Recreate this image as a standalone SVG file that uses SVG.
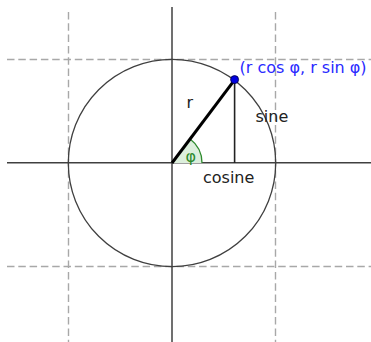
<svg xmlns="http://www.w3.org/2000/svg" width="371" height="342" viewBox="0 0 371 342">
<style>
.grid{stroke:#a8a8a8;stroke-width:1.4;stroke-dasharray:7.5,3.8;fill:none}
.axis{stroke:#404040;stroke-width:1.5;fill:none}
.circ{stroke:#404040;stroke-width:1.3;fill:none}
.lbl{font-family:"DejaVu Sans",sans-serif;font-size:16px;fill:#222}
</style>
<rect width="371" height="342" fill="#fff"/>
<g id="grid">
<line class="grid" x1="7" y1="59.5" x2="371" y2="59.5"/>
<line class="grid" x1="7" y1="266.5" x2="371" y2="266.5"/>
<line class="grid" x1="68.5" y1="12" x2="68.5" y2="342"/>
<line class="grid" x1="275.5" y1="12" x2="275.5" y2="342"/>
</g>
<g id="axes">
<line class="axis" x1="7" y1="162.8" x2="371" y2="162.8"/>
<line class="axis" x1="172" y1="7" x2="172" y2="342"/>
</g>
<g id="circle"><circle class="circ" cx="172" cy="163" r="103.7"/></g>
<g id="angle">
<path d="M172,163 L202,163 A30,30 0 0 0 190.1,139.1 Z" fill="#dcefdc" stroke="none"/>
<path d="M202,163 A30,30 0 0 0 190.1,139.1" fill="none" stroke="#2e8b2e" stroke-width="1.3"/>
</g>
<g id="connectors">
<line x1="234.6" y1="79.8" x2="234.6" y2="163" stroke="#222" stroke-width="1.6"/>
<line x1="172" y1="163" x2="234.6" y2="79.8" stroke="#000" stroke-width="3"/>
</g>
<g id="point"><circle cx="234.6" cy="79.6" r="4" fill="#0000e0" stroke="#000040" stroke-width="0.8"/></g>
<g id="labels">
<text class="lbl" x="186.5" y="108.3">r</text>
<text class="lbl" x="255.5" y="121.7">sine</text>
<text class="lbl" x="203" y="182.7">cosine</text>
<text class="lbl" x="185.5" y="161.5" style="fill:#2e8b2e">φ</text>
<text class="lbl" x="239.5" y="72.5" style="fill:#2a2aff">(r cos φ, r sin φ)</text>
</g>
</svg>
